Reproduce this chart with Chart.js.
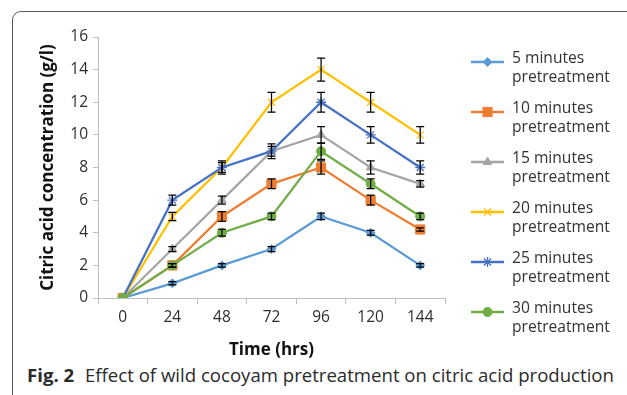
<!DOCTYPE html>
<html>
<head>
<meta charset="utf-8">
<script src="https://cdn.jsdelivr.net/npm/chart.js@4/dist/chart.umd.min.js"></script>
<style>
  html, body { margin: 0; padding: 0; background: #fff; width: 627px; height: 395px; overflow: hidden; }
  #frame { position: absolute; left: 12px; top: 11px; width: 700px; height: 400px;
           border-top: 1.5px solid #5a5a5a; border-left: 1.5px solid #5a5a5a; border-top-left-radius: 9px; }
  #wrap { position: absolute; left: 0; top: 0; width: 627px; height: 360px; }
  #caption { position: absolute; left: 27px; top: 362px; font-family: "Open Sans", sans-serif; font-size: 18.6px;
             color: #2b2b2b; white-space: nowrap; }
  #caption b { font-weight: 700; margin-right: 6px; }
</style>
</head>
<body>
<div id="frame"></div>
<div id="wrap"><canvas id="c" width="627" height="360"></canvas></div>
<div id="caption"><b>Fig. 2</b> Effect of wild cocoyam pretreatment on citric acid production</div>
<script>
// ---- data ----
const timeLabels = ['0', '24', '48', '72', '96', '120', '144'];
const seriesNames = [
  ['5 minutes', 'pretreatment'],
  ['10 minutes', 'pretreatment'],
  ['15 minutes', 'pretreatment'],
  ['20 minutes', 'pretreatment'],
  ['25 minutes', 'pretreatment'],
  ['30 minutes', 'pretreatment']
];
const min5  = [0, 0.9, 2, 3, 5, 4, 2];
const min10 = [0, 2, 5, 7, 8, 6, 4.2];
const min15 = [0, 3, 6, 9, 10, 8, 7];
const min20 = [0, 5, 8, 12, 14, 12, 10];
const min25 = [0, 6, 8, 9, 12, 10, 8];
const min30 = [0, 2, 4, 5, 9, 7, 5];
const err5  = [0, 0.1, 0.1, 0.15, 0.2, 0.15, 0.1];
const err10 = [0, 0.1, 0.3, 0.3, 0.4, 0.3, 0.1];
const err15 = [0, 0.15, 0.25, 0.3, 0.5, 0.4, 0.2];
const err20 = [0, 0.25, 0.3, 0.6, 0.7, 0.6, 0.5];
const err25 = [0, 0.3, 0.4, 0.45, 0.6, 0.5, 0.4];
const err30 = [0, 0.1, 0.2, 0.2, 0.5, 0.3, 0.2];
const yTicks = [0, 2, 4, 6, 8, 10, 12, 14, 16];

const values = [min5, min10, min15, min20, min25, min30];
const errors = [err5, err10, err15, err20, err25, err30];
const colors = ['#5B9BD5', '#ED7D31', '#A5A5A5', '#FFC000', '#4472C4', '#70AD47'];
const shapes = ['rectRot', 'rect', 'triangle', 'crossRot', 'star', 'circle'];
const radii  = [4.5, 6.5, 5, 5, 5, 4.5];

const datasets = values.map((v, i) => ({
  label: seriesNames[i].join(' '),
  data: v,
  borderColor: colors[i],
  backgroundColor: colors[i],
  borderWidth: 2.25,
  pointStyle: shapes[i],
  pointRadius: radii[i],
  pointBorderWidth: (shapes[i] === 'crossRot' || shapes[i] === 'star') ? 1.3 : 1,
  pointBorderColor: colors[i],
  pointBackgroundColor: colors[i],
  tension: 0,
  order: 5 - i,
  errors: errors[i]
}));

const FONT = '"Open Sans", sans-serif';

const errorBars = {
  id: 'errorBars',
  afterDatasetsDraw(chart) {
    const ctx = chart.ctx;
    const ys = chart.scales.y;
    ctx.save();
    ctx.strokeStyle = '#000';
    ctx.lineWidth = 1.25;
    chart.data.datasets.forEach((ds, di) => {
      const meta = chart.getDatasetMeta(di);
      meta.data.forEach((pt, j) => {
        const e = ds.errors[j];
        if (!e) return;
        const v = ds.data[j];
        const top = ys.getPixelForValue(v + e);
        const bot = ys.getPixelForValue(v - e);
        const x = pt.x;
        ctx.beginPath();
        ctx.moveTo(x, top); ctx.lineTo(x, bot);
        ctx.moveTo(x - 4, top); ctx.lineTo(x + 4, top);
        ctx.moveTo(x - 4, bot); ctx.lineTo(x + 4, bot);
        ctx.stroke();
      });
    });
    ctx.restore();
  }
};

const customLegend = {
  id: 'customLegend',
  afterDraw(chart) {
    const ctx = chart.ctx;
    const area = chart.chartArea;
    const x0 = area.right + 26;
    const y0 = area.top + 25;
    ctx.save();
    chart.data.datasets.forEach((ds, i) => {
      const y = y0 + i * 50;
      ctx.strokeStyle = ds.borderColor;
      ctx.lineWidth = 2.5;
      ctx.beginPath();
      ctx.moveTo(x0, y); ctx.lineTo(x0 + 33, y);
      ctx.stroke();
      ctx.fillStyle = ds.backgroundColor;
      ctx.strokeStyle = ds.borderColor;
      ctx.lineWidth = ds.pointBorderWidth;
      Chart.helpers.drawPoint(ctx, { pointStyle: ds.pointStyle, radius: ds.pointRadius, borderWidth: ds.pointBorderWidth, rotation: 0 }, x0 + 16.5, y);
      ctx.fillStyle = '#333';
      ctx.font = '15.6px ' + FONT;
      ctx.textBaseline = 'middle';
      ctx.textAlign = 'left';
      ctx.fillText(seriesNames[i][0], x0 + 41, y - 3);
      ctx.fillText(seriesNames[i][1], x0 + 41, y + 16);
    });
    ctx.restore();
  }
};

new Chart(document.getElementById('c'), {
  type: 'line',
  data: { labels: timeLabels, datasets },
  plugins: [errorBars, customLegend],
  options: {
    responsive: false,
    animation: false,
    events: [],
    layout: { padding: { left: 0, right: 182, top: 37, bottom: 0 } },
    plugins: { legend: { display: false }, tooltip: { enabled: false } },
    scales: {
      x: {
        type: 'category',
        offset: true,
        grid: { display: true, drawOnChartArea: false, drawTicks: true, tickLength: 6, color: '#bfbfbf', offset: true },
        border: { display: true, color: '#bfbfbf', width: 1 },
        ticks: { color: '#2e2e2e', font: { family: FONT, size: 15.5 }, padding: 4, maxRotation: 0 },
        title: { display: true, text: 'Time (hrs)', color: '#111', font: { family: FONT, size: 17, weight: 'bold' }, padding: { top: 2, bottom: 0 } },
        afterFit(s) { s.height = 62; }
      },
      y: {
        min: 0, max: 16,
        afterBuildTicks(s) { s.ticks = yTicks.map(v => ({ value: v })); },
        grid: { display: true, drawOnChartArea: false, drawTicks: true, tickLength: 5, color: '#bfbfbf' },
        border: { display: true, color: '#bfbfbf', width: 1 },
        ticks: { color: '#2e2e2e', font: { family: FONT, size: 15.5 }, padding: 5 },
        title: { display: true, text: 'Citric acid concentration (g/l)', color: '#111', font: { family: FONT, size: 17, weight: 'bold' }, padding: { top: 38, bottom: 0 } },
        afterFit(s) { s.width = 98; }
      }
    }
  }
});
</script>
</body>
</html>
